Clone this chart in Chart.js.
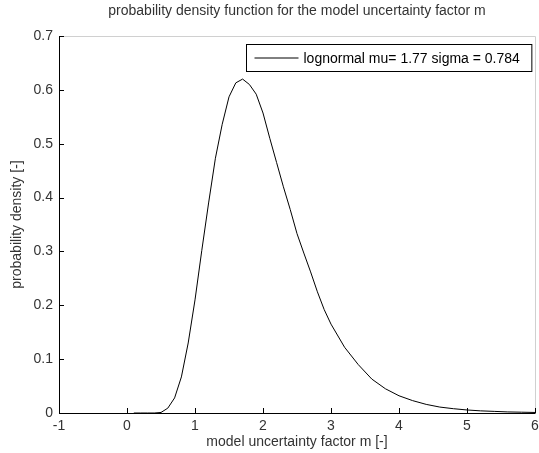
<!DOCTYPE html>
<html>
<head>
<meta charset="utf-8">
<script src="https://cdn.jsdelivr.net/npm/chart.js@4.4.0/dist/chart.umd.min.js"></script>
<style>
  html, body { margin: 0; padding: 0; background: #fff; }
  #wrap { width: 539px; height: 453px; }
</style>
</head>
<body>
<div id="wrap"><canvas id="pdfChart" width="539" height="453"></canvas></div>
<script>
// model uncertainty factor m (x) and the density (y)
const mValues = [0.1, 0.2, 0.3, 0.4, 0.5, 0.6, 0.7, 0.8, 0.9, 1.0,
                 1.1, 1.2, 1.3, 1.4, 1.5, 1.6, 1.7, 1.8, 1.9, 2.0,
                 2.1, 2.2, 2.3, 2.4, 2.5, 2.6, 2.7, 2.8, 2.9, 3.0,
                 3.2, 3.4, 3.6, 3.8, 4.0, 4.2, 4.4, 4.6, 4.8, 5.0,
                 5.2, 5.4, 5.6, 5.8, 6.0];
const densityValues = [0, 0, 0, 0, 0.001, 0.009, 0.028, 0.067, 0.13, 0.21,
                       0.302, 0.39, 0.473, 0.536, 0.587, 0.613, 0.62, 0.61, 0.592, 0.557,
                       0.51, 0.465, 0.42, 0.378, 0.333, 0.297, 0.262, 0.225, 0.192, 0.165,
                       0.122, 0.09, 0.063, 0.045, 0.032, 0.023, 0.016, 0.011, 0.008, 0.0056,
                       0.004, 0.003, 0.002, 0.0015, 0.001];
const seriesLabel = 'lognormal mu= 1.77 sigma = 0.784';
const chartTitle = 'probability density function for the model uncertainty factor m';
const xTickValues = [-1, 0, 1, 2, 3, 4, 5, 6];
const yTickValues = [0, 0.1, 0.2, 0.3, 0.4, 0.5, 0.6, 0.7];

const FONT = 'Liberation Sans, Arial, sans-serif';
const FONT_SIZE = 14;
const TEXT_COLOR = '#333';

// matlab style box: black left/bottom, light grey top/right, ticks pointing inward
const axesBox = {
    id: 'axesBox',
    afterDatasetsDraw(chart) {
        const {ctx, chartArea: a, scales} = chart;
        ctx.save();
        ctx.lineWidth = 1;
        ctx.strokeStyle = '#d0d0d0';
        ctx.beginPath();
        ctx.moveTo(a.left, a.top + 0.5);
        ctx.lineTo(a.right + 0.5, a.top + 0.5);
        ctx.lineTo(a.right + 0.5, a.bottom);
        ctx.stroke();

        ctx.strokeStyle = '#000';
        ctx.beginPath();
        ctx.moveTo(a.left + 0.5, a.top);
        ctx.lineTo(a.left + 0.5, a.bottom + 0.5);
        ctx.lineTo(a.right + 0.5, a.bottom + 0.5);
        // x ticks
        scales.x.ticks.forEach(t => {
            const px = Math.round(scales.x.getPixelForValue(t.value)) + 0.5;
            ctx.moveTo(px, a.bottom);
            ctx.lineTo(px, a.bottom - 5);
        });
        // y ticks
        scales.y.ticks.forEach(t => {
            const py = Math.round(scales.y.getPixelForValue(t.value)) + 0.5;
            ctx.moveTo(a.left, py);
            ctx.lineTo(a.left + 5, py);
        });
        ctx.stroke();
        ctx.restore();
    }
};

// title centred over the axes, like matlab does it
const axesTitle = {
    id: 'axesTitle',
    afterDraw(chart) {
        const {ctx, chartArea: a} = chart;
        ctx.save();
        ctx.font = FONT_SIZE + 'px ' + FONT;
        ctx.fillStyle = TEXT_COLOR;
        ctx.textAlign = 'center';
        ctx.textBaseline = 'middle';
        ctx.fillText(chartTitle, (a.left + a.right) / 2, a.top - 25);
        ctx.restore();
    }
};

// legend box in the upper right corner of the axes
const boxLegend = {
    id: 'boxLegend',
    afterDraw(chart) {
        const {ctx, chartArea: a} = chart;
        const label = chart.data.datasets[0].label;
        ctx.save();
        ctx.font = FONT_SIZE + 'px ' + FONT;
        const textW = ctx.measureText(label).width;
        const w = 8 + 44 + 5 + textW + 12;
        const h = 27;
        const x = Math.round(a.right - 4 - w) + 0.5;
        const y = Math.round(a.top + 8) + 0.5;
        ctx.fillStyle = '#fff';
        ctx.fillRect(x, y, w, h);
        ctx.strokeStyle = '#000';
        ctx.lineWidth = 1;
        ctx.strokeRect(x, y, w, h);
        ctx.beginPath();
        ctx.moveTo(x + 8, y + h / 2);
        ctx.lineTo(x + 52, y + h / 2);
        ctx.stroke();
        ctx.fillStyle = '#000';
        ctx.textBaseline = 'middle';
        ctx.fillText(label, x + 57, y + h / 2 + 1);
        ctx.restore();
    }
};

const points = mValues.map((m, i) => ({x: m, y: densityValues[i]}));

new Chart(document.getElementById('pdfChart'), {
    type: 'line',
    data: {
        datasets: [{
            label: seriesLabel,
            data: points,
            borderColor: '#000',
            borderWidth: 1,
            pointRadius: 0,
            tension: 0,
            fill: false
        }]
    },
    options: {
        responsive: false,
        animation: false,
        layout: { padding: { left: 0, right: 4, top: 36, bottom: 0 } },
        plugins: {
            legend: { display: false },
            tooltip: { enabled: false },
            title: { display: false }
        },
        scales: {
            x: {
                type: 'linear',
                min: -1,
                max: 6,
                afterBuildTicks: s => { s.ticks = xTickValues.map(v => ({value: v})); },
                grid: { display: false, drawTicks: false },
                border: { display: false },
                ticks: {
                    color: TEXT_COLOR,
                    font: { family: FONT, size: FONT_SIZE },
                    padding: 5,
                    maxRotation: 0,
                    callback: v => String(v)
                },
                title: {
                    display: true,
                    text: 'model uncertainty factor m [-]',
                    color: TEXT_COLOR,
                    font: { family: FONT, size: FONT_SIZE },
                    padding: { top: 1, bottom: 2 }
                },
                afterFit: s => { s.height = 40; s.paddingLeft = 0; s.paddingRight = 0; }
            },
            y: {
                type: 'linear',
                min: 0,
                max: 0.7,
                afterBuildTicks: s => { s.ticks = yTickValues.map(v => ({value: v})); },
                grid: { display: false, drawTicks: false },
                border: { display: false },
                ticks: {
                    color: TEXT_COLOR,
                    font: { family: FONT, size: FONT_SIZE },
                    padding: 6,
                    callback: v => (v === 0 ? '0' : v.toFixed(1))
                },
                title: {
                    display: true,
                    text: 'probability density [-]',
                    color: TEXT_COLOR,
                    font: { family: FONT, size: FONT_SIZE },
                    padding: { top: 9, bottom: 0 }
                },
                afterFit: s => { s.width = 59; s.paddingTop = 0; s.paddingBottom = 0; }
            }
        }
    },
    plugins: [axesBox, axesTitle, boxLegend]
});
</script>
</body>
</html>
